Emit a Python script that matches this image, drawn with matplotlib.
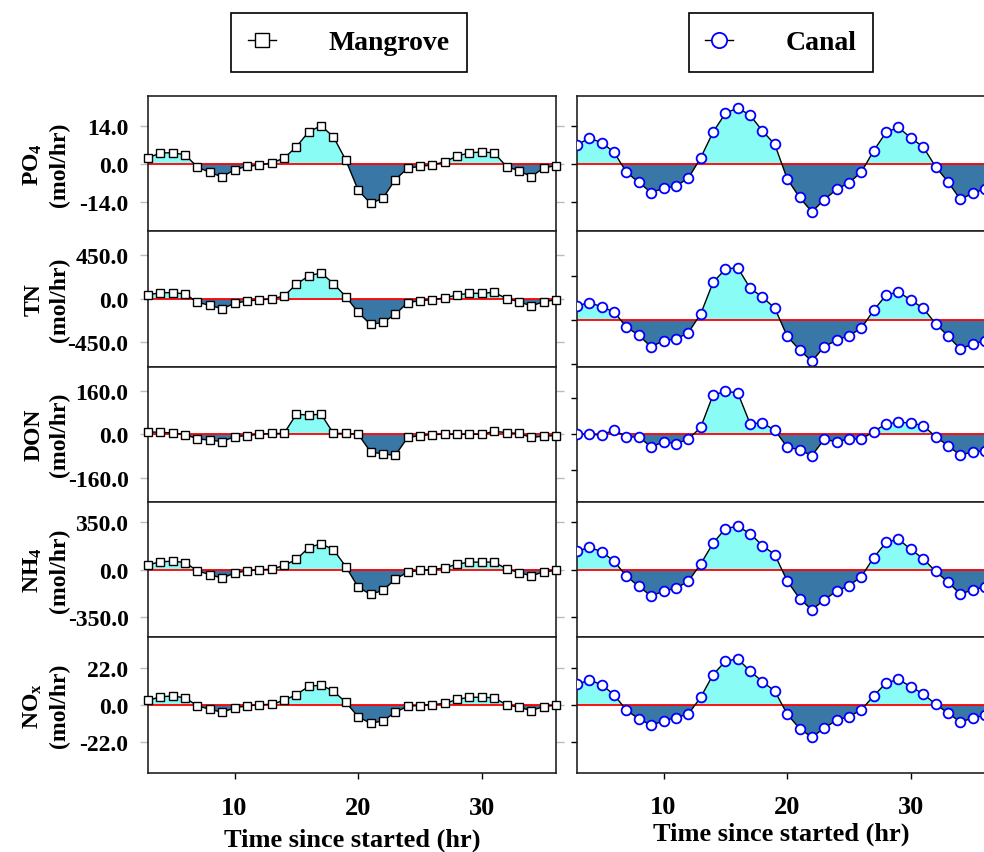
import numpy as np
import matplotlib
matplotlib.use("Agg")
import matplotlib.pyplot as plt
from matplotlib.lines import Line2D

plt.rcParams['font.family'] = ['Liberation Serif', 'DejaVu Serif']
plt.rcParams['font.weight'] = 'bold'
plt.rcParams['mathtext.fontset'] = 'custom'
plt.rcParams['mathtext.rm'] = 'Liberation Serif:bold'
plt.rcParams['mathtext.it'] = 'Liberation Serif:bold'
plt.rcParams['mathtext.bf'] = 'Liberation Serif:bold'

hours = np.arange(3, 37)

# mangrove series (hourly, 3..36 hr)
po4_mangrove = [2.1, 4.0, 4.0, 3.3, -1.3, -3.2, -4.9, -2.2, -1.0, -0.6, 0.3, 2.0, 6.2, 11.8,
                14.0, 9.9, 1.3, -9.8, -14.7, -12.8, -5.9, -1.7, -1.0, -0.5, 0.7, 2.8, 4.0, 4.3,
                4.0, -1.1, -2.6, -4.8, -1.6, -0.7]
tn_mangrove = [42, 65, 65, 52, -35, -66, -101, -46, -21, -10, 0, 31, 152, 239, 270, 159, 24,
               -139, -264, -243, -160, -38, -18, -7, 10, 42, 58, 58, 69, 3, -28, -73, -28, -10]
don_mangrove = [9, 7, 5, -1, -17, -22, -27, -9, -5, 0, 3, 3, 74, 71, 74, 3, 3, 0, -65, -73,
                -78, -12, -5, -1, 0, 0, 0, 0, 11, 6, 3, -12, -7, -5]
nh4_mangrove = [35, 57, 62, 52, -10, -37, -64, -25, -10, -2, 3, 30, 75, 162, 191, 147, 22,
                -131, -183, -154, -72, -19, -7, 0, 12, 40, 55, 55, 55, 5, -22, -47, -17, -7]
nox_mangrove = [2.6, 4.8, 5.2, 4.2, -0.6, -2.6, -4.4, -1.8, -0.6, 0.0, 0.4, 2.6, 6.1, 10.9,
                11.7, 8.1, 1.5, -7.1, -10.9, -9.5, -4.4, -0.8, -0.4, 0.2, 0.8, 3.2, 4.5, 4.5,
                4.2, 0.0, -1.4, -3.4, -1.0, -0.2]

# canal series
po4_canal = [7.0, 9.4, 7.8, 4.2, -3.2, -6.9, -10.7, -9.1, -8.3, -5.4, 2.1, 11.6, 18.6, 20.6,
             17.9, 12.1, 7.1, -5.6, -12.5, -17.8, -13.3, -9.5, -7.1, -3.1, 4.8, 11.6, 13.4,
             9.5, 6.2, -1.1, -6.7, -13.2, -11.0, -9.3]
tn_canal = [144, 178, 134, 82, -75, -158, -278, -213, -199, -131, 59, 384, 522, 536, 326, 234,
            120, -168, -309, -425, -275, -209, -162, -85, 100, 254, 288, 203, 120, -38, -165,
            -299, -250, -216]
don_canal = [2, -1, -3, 19, -12, -12, -56, -34, -42, -22, 30, 174, 190, 184, 47, 50, 18, -57,
             -69, -95, -22, -34, -20, -22, 12, 46, 53, 50, 38, -10, -51, -93, -78, -75]
nh4_canal = [136, 164, 132, 62, -50, -124, -196, -159, -139, -87, 40, 194, 303, 320, 266, 177,
             110, -84, -214, -298, -224, -159, -119, -52, 89, 201, 224, 149, 80, -13, -92, -181,
             -151, -127]
nox_canal = [12.1, 14.7, 11.9, 5.9, -3.2, -8.3, -12.1, -9.5, -7.5, -5.5, 4.4, 17.8, 25.8, 27.2,
             20.0, 13.7, 8.1, -5.5, -14.0, -19.2, -13.7, -9.1, -6.9, -3.0, 5.4, 12.9, 15.1,
             10.7, 6.5, 0.4, -4.8, -10.1, -7.9, -6.1]

labels = ['PO$_4$\n(mol/hr)', 'TN\n(mol/hr)', 'DON\n(mol/hr)', 'NH$_4$\n(mol/hr)', 'NO$_x$\n(mol/hr)']
ticks = [14.0, 450.0, 160.0, 350.0, 22.0]
ylims_mangrove = [(-25, 25), (-700, 700), (-250, 250), (-500, 500), (-40, 40)]
ylims_canal = [(-25, 25), (-480, 910), (-300, 300), (-500, 500), (-40, 40)]

mangrove = [po4_mangrove, tn_mangrove, don_mangrove, nh4_mangrove, nox_mangrove]
canal = [po4_canal, tn_canal, don_canal, nh4_canal, nox_canal]

cyan = '#8afcf6'
dark = '#3977a6'

W, H = 984, 853
fig = plt.figure(figsize=(W / 100, H / 100), dpi=100)

top_px, row_px = 97, 135.3
col_left = [148, 577]
col_w = 408


def draw(ax, y, ylim, tick, style):
    y = np.asarray(y, dtype=float)
    ax.fill_between(hours, y, 0, where=y >= 0, interpolate=True, color=cyan, lw=0, zorder=1)
    ax.fill_between(hours, y, 0, where=y <= 0, interpolate=True, color=dark, lw=0, zorder=1)
    ax.axhline(0, color='red', lw=1.3, zorder=2)
    if style == 'mangrove':
        ax.plot(hours, y, color='k', lw=1.0, marker='s', ms=6, mfc='white', mec='k', mew=1.0,
                zorder=3, clip_on=False)
    else:
        ax.plot(hours, y, color='k', lw=1.0, marker='o', ms=7, mfc='white', mec='blue', mew=1.3,
                zorder=3, clip_on=True)
    ax.set_xlim(3, 36)
    ax.set_ylim(*ylim)
    ax.set_yticks([-tick, 0, tick])
    ax.set_xticks([10, 20, 30])
    for s in ax.spines.values():
        s.set_linewidth(1.2)
        s.set_color('#222222')
    ax.tick_params(axis='y', direction='out', length=4, width=1, pad=8, labelsize=17)
    ax.tick_params(axis='x', direction='out', length=4, width=1, labelsize=19)


for col, (data, ylims, style) in enumerate([(mangrove, ylims_mangrove, 'mangrove'),
                                            (canal, ylims_canal, 'canal')]):
    for i in range(5):
        y0 = top_px + (i + 1) * row_px
        ax = fig.add_axes([col_left[col] / W, 1 - y0 / H, col_w / W, row_px / H])
        draw(ax, data[i], ylims[i], ticks[i], style)
        if col == 0:
            ax.set_yticklabels([f'{-ticks[i]:.1f}', '0.0', f'{ticks[i]:.1f}'])
            ax.set_ylabel(labels[i], fontsize=17, fontweight='bold', linespacing=1.3)
            ax.yaxis.set_label_coords(-0.19, 0.5)
            ax.tick_params(axis='y', right=True, color='#bbbbbb', length=6)
        else:
            ax.set_yticklabels([])
        if i < 4:
            ax.set_xticklabels([])
        else:
            ax.tick_params(axis='x', pad=13 if col == 0 else 12)
            ax.set_xlabel('Time since started (hr)', fontsize=19, fontweight='bold',
                          labelpad=6 if col == 0 else 3)

h_m = Line2D([], [], color='k', lw=1, marker='s', ms=10, mfc='white', mec='k')
h_c = Line2D([], [], color='k', lw=1, marker='o', ms=11, mfc='white', mec='blue', mew=1.3)
for h, name, cx in [(h_m, 'Mangrove', 349), (h_c, 'Canal', 781)]:
    leg = fig.legend([h], [name], loc='center', bbox_to_anchor=(cx / W, 1 - 43.5 / H),
                     prop={'family': 'Liberation Serif', 'weight': 'bold', 'size': 20},
                     frameon=True, fancybox=False, edgecolor='k', framealpha=1,
                     handlelength=1.0, handletextpad=1.9, borderpad=0.6, borderaxespad=0)
    leg.get_frame().set_linewidth(1.2)

fig.savefig('out.png', dpi=100)
